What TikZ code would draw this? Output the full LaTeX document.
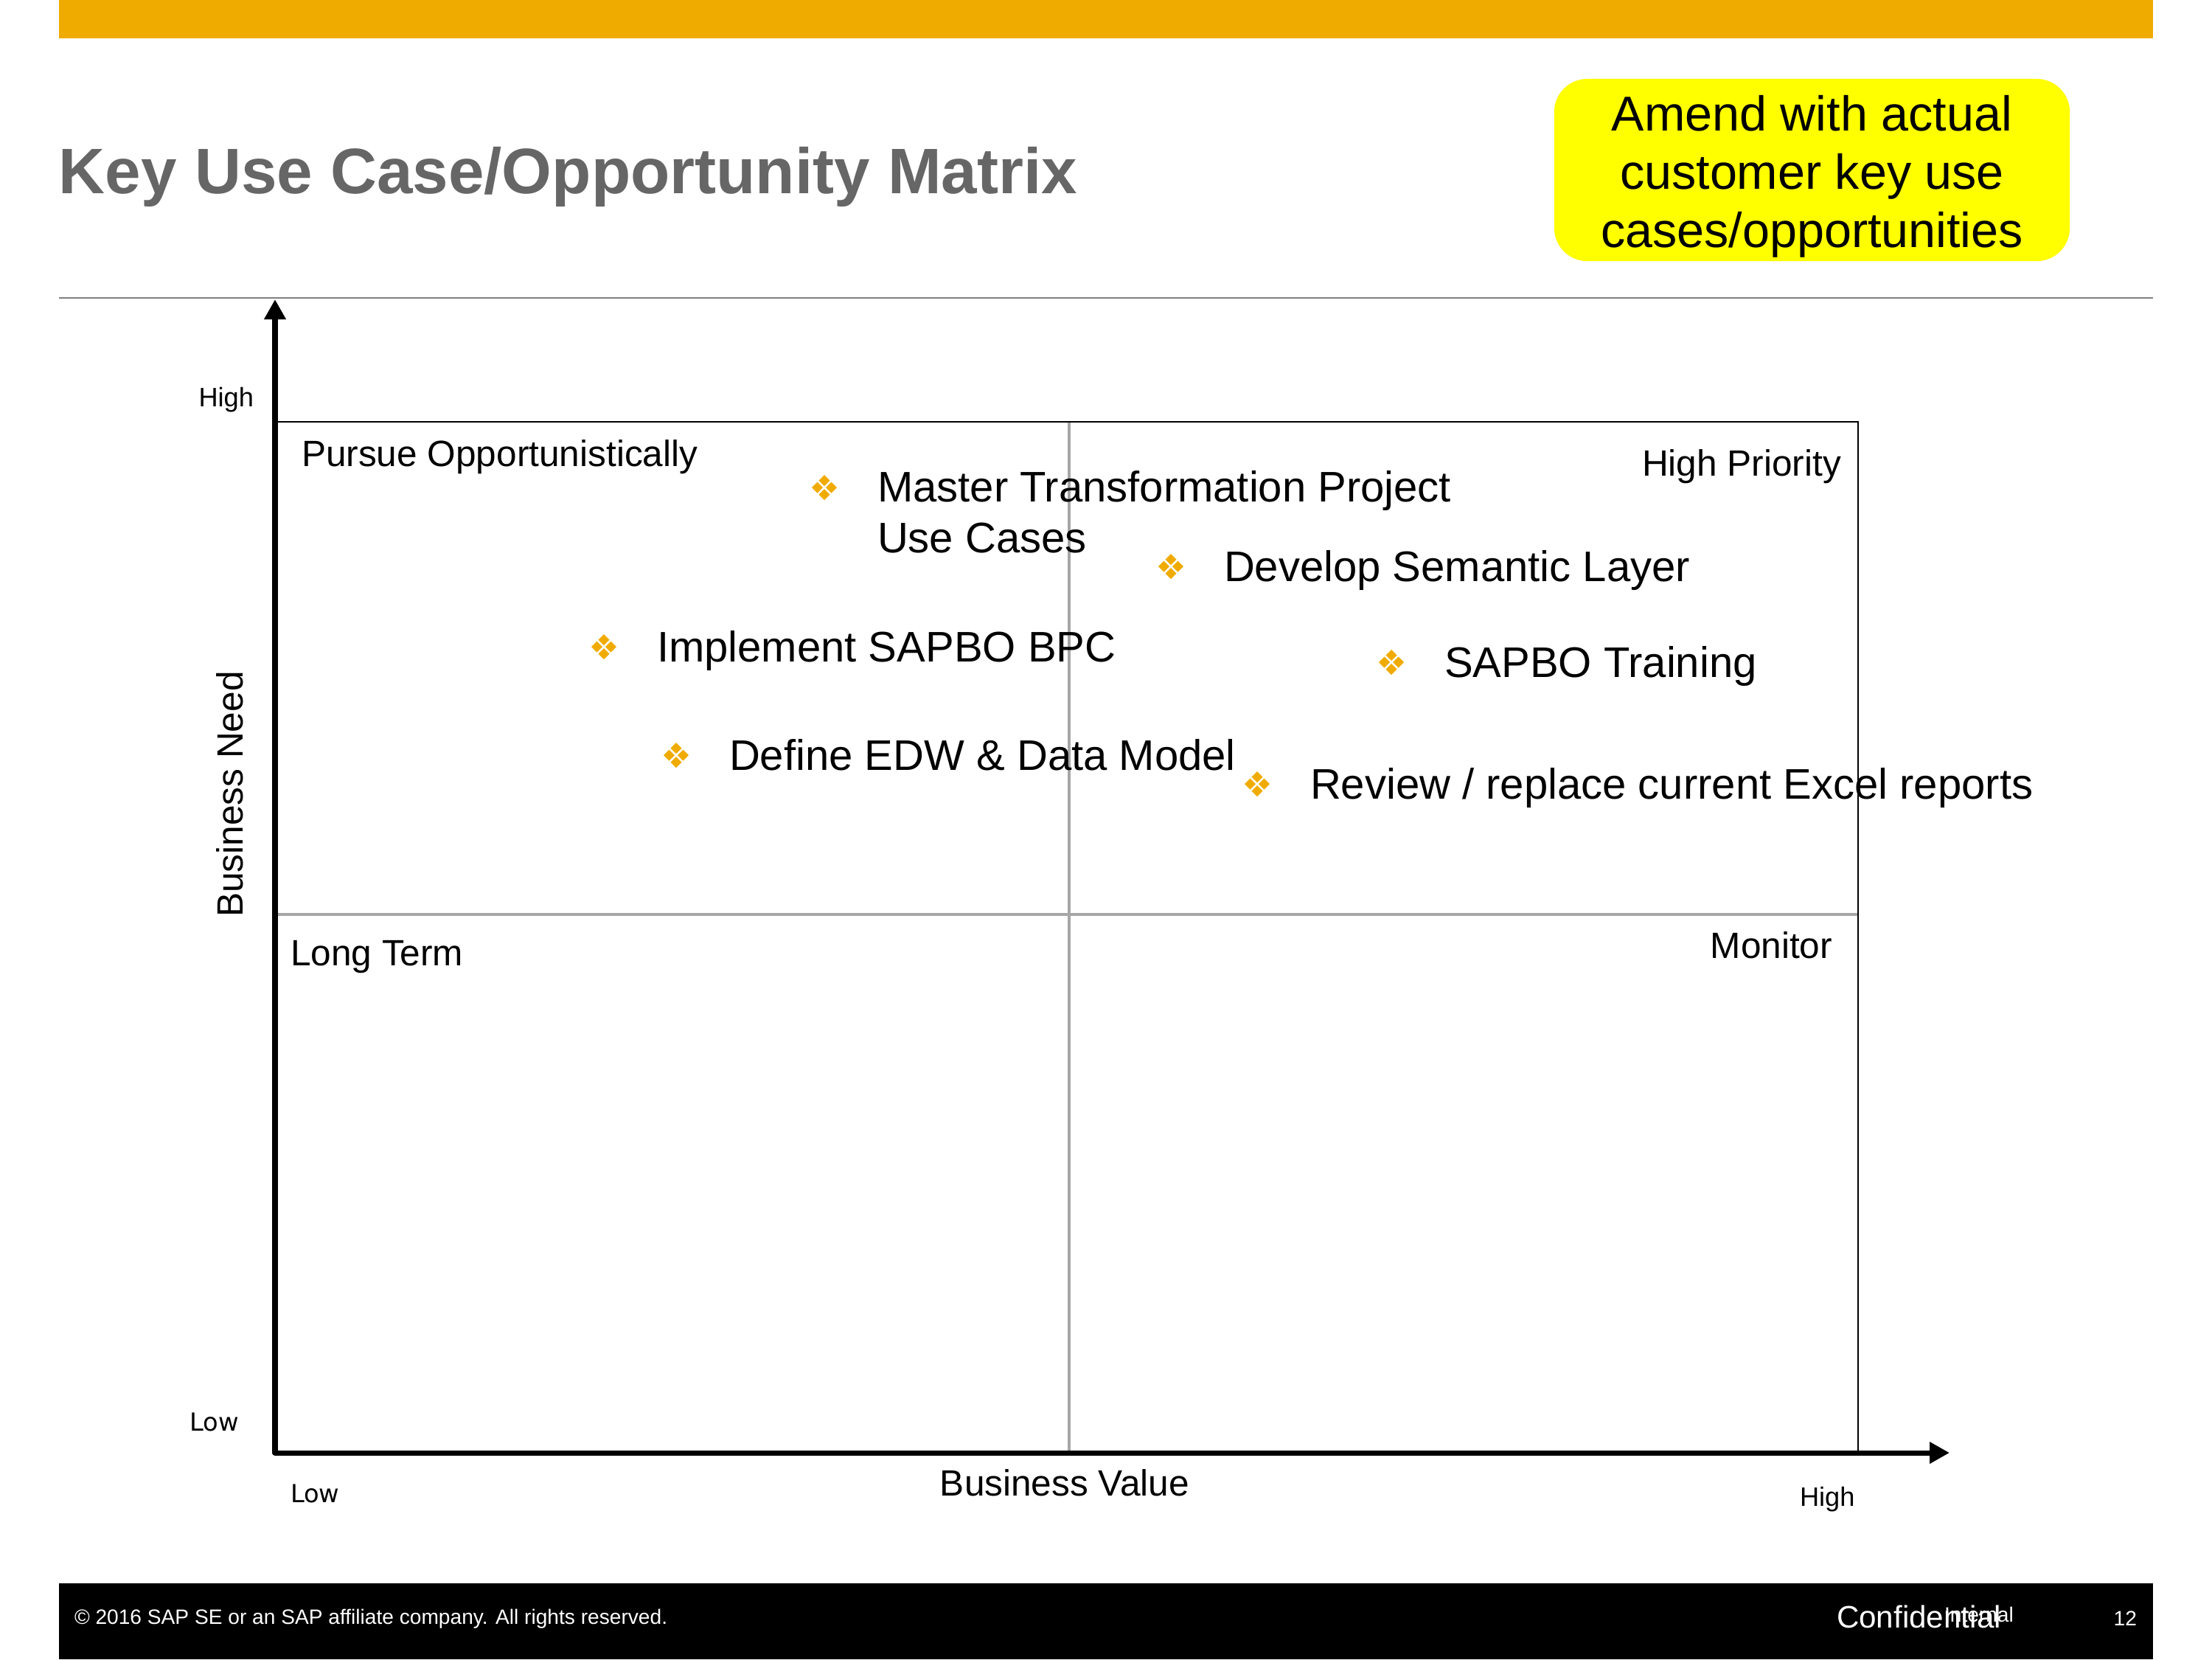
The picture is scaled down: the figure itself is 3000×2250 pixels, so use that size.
\documentclass[tikz,border=0pt]{standalone}
\usepackage{fontspec}
\setmainfont{Liberation Sans}
\newfontfamily\dvs{DejaVu Sans}
\usetikzlibrary{arrows.meta}
\definecolor{sapgold}{HTML}{F0AB00}
\definecolor{titlegray}{HTML}{666666}
\definecolor{midgray}{HTML}{A6A6A6}
\definecolor{rulegray}{HTML}{808080}
\definecolor{noteyellow}{HTML}{FFFF00}
\tikzset{
  lbl/.style={inner sep=0,outer sep=0},
  itemtext/.style={lbl,font=\fontsize{16.5}{19.4}\selectfont,anchor=base west,align=left},
  quadlbl/.style={lbl,font=\fontsize{14.1}{17}\selectfont},
  ticklbl/.style={lbl,font=\fontsize{10.3}{12}\selectfont},
  lowlbl/.style={lbl,font=\dvs\fontsize{9.6}{12}\selectfont},
  footlbl/.style={lbl,text=white,font=\fontsize{8}{10}\selectfont},
  axisarrow/.style={line width=2pt,line join=round,{Triangle[length=0.27cm,width=0.28cm]}-{Triangle[length=0.27cm,width=0.28cm]}},
  sapbullet/.pic={
    \foreach \dx/\dy in {0/-9.5,0/9.5,-9.5/0,9.5/0}
      \fill[sapgold] (\dx,\dy) +(0,-7.5) -- +(7.5,0) -- +(0,7.5) -- +(-7.5,0) -- cycle;
  }
}
\begin{document}
\begin{tikzpicture}[x=0.01cm,y=-0.01cm]
\useasboundingbox (0,0) rectangle (3000,2250);
% header
\fill[sapgold] (80,0) rectangle (2920,52);
\node[lbl,anchor=base west,text=titlegray,font=\bfseries\fontsize{24.8}{28}\selectfont] (title) at (80,262) {Key Use Case/Opportunity Matrix};
\node[fill=noteyellow,rounded corners=0.45cm,minimum width=6.99cm,minimum height=2.47cm,inner sep=0] (note) at (2457.5,230.5) {};
\node[lbl,align=center,font=\fontsize{18.9}{22.5}\selectfont] (notetext) at (2457.5,239) {Amend with actual\\customer key use\\cases/opportunities};
\draw[rulegray,line width=0.7pt] (80,404) -- (2920,404);
% matrix
\draw[midgray,line width=1pt] (1450,572) -- (1450,1970);
\draw[midgray,line width=1pt] (373,1240) -- (2520,1240);
\draw[line width=0.8pt] (373,572) rectangle (2520,1970);
\coordinate (ytip) at (373,406);
\coordinate (origin) at (373,1970);
\coordinate (xtip) at (2644,1970);
\draw[axisarrow] (ytip) -- (origin) -- (xtip);
% axis labels
\node[ticklbl,anchor=base east] (yhigh) at (344,551) {High};
\node[lowlbl,anchor=base east] (ylow) at (324,1940) {Low};
\node[lowlbl,anchor=base west] (xlow) at (394,2037) {Low};
\node[ticklbl,anchor=base west] (xhigh) at (2441,2042) {High};
\node[quadlbl,anchor=base] (xtitle) at (1444,2028) {Business Value};
\node[quadlbl,rotate=90] (ytitle) at (312,1077) {Business Need};
% quadrant labels
\node[quadlbl,anchor=base west] (q1) at (409,632) {Pursue Opportunistically};
\node[quadlbl,anchor=base east] (q2) at (2497,645) {High Priority};
\node[quadlbl,anchor=base west] (q3) at (394,1309) {Long Term};
\node[quadlbl,anchor=base east] (q4) at (2485,1299) {Monitor};
% items
\pic at (1118,661) {sapbullet};
\node[itemtext] (i1) at (1190,749) {Master Transformation Project\\Use Cases};
\pic at (1588,768) {sapbullet};
\node[itemtext] (i2) at (1660,788) {Develop Semantic Layer};
\pic at (819,877) {sapbullet};
\node[itemtext] (i3) at (891,897) {Implement SAPBO BPC};
\pic at (1887,898) {sapbullet};
\node[itemtext] (i4) at (1959,918) {SAPBO Training};
\pic at (917,1024) {sapbullet};
\node[itemtext] (i5) at (989,1044) {Define EDW \& Data Model};
\pic at (1705,1063) {sapbullet};
\node[itemtext] (i6) at (1777,1083) {Review / replace current Excel reports};
% footer
\fill[black] (80,2147) rectangle (2920,2250);
\node[footlbl,anchor=base west] (copy) at (101,2202) {© 2016 SAP SE or an SAP affiliate company. All rights reserved.};
\node[footlbl,anchor=base west,font=\fontsize{12}{14}\selectfont] (conf) at (2491,2207) {Confidential};
\node[footlbl,anchor=base west] (internal) at (2637,2199) {Internal};
\node[footlbl,anchor=base east] (page) at (2898,2204) {12};
\end{tikzpicture}
\end{document}
